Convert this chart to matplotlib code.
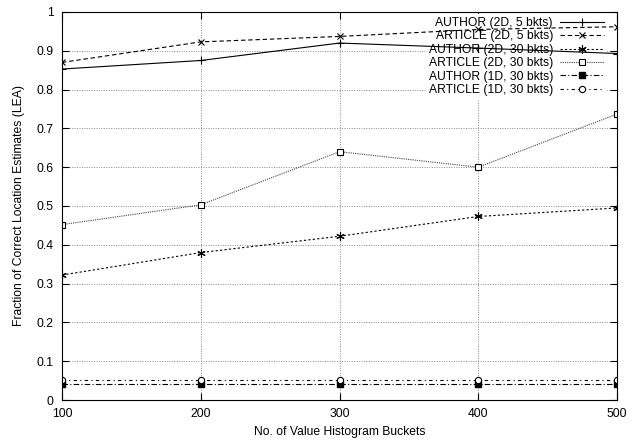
import numpy as np
import matplotlib
matplotlib.use("Agg")
import matplotlib.pyplot as plt

plt.rcParams['font.family'] = ['Liberation Sans', 'DejaVu Sans']
plt.rcParams['font.size'] = 8.7

buckets = [100, 200, 300, 400, 500]

author_2d_5 = [0.853, 0.875, 0.920, 0.907, 0.893]
article_2d_5 = [0.870, 0.923, 0.937, 0.955, 0.962]
author_2d_30 = [0.322, 0.380, 0.422, 0.473, 0.495]
article_2d_30 = [0.452, 0.503, 0.640, 0.600, 0.737]
author_1d_30 = [0.042, 0.042, 0.042, 0.042, 0.042]
article_1d_30 = [0.051, 0.051, 0.051, 0.051, 0.051]

labels = ['AUTHOR (2D, 5 bkts)', 'ARTICLE (2D, 5 bkts)', 'AUTHOR (2D, 30 bkts)',
          'ARTICLE (2D, 30 bkts)', 'AUTHOR (1D, 30 bkts)', 'ARTICLE (1D, 30 bkts)']

fig = plt.figure(figsize=(6.34, 4.4), dpi=100)
ax = fig.add_axes([62/634, 1 - 400/440, (617 - 62)/634, (400 - 12)/440])

lw = 0.8
ax.plot(buckets, author_2d_5, color='black', lw=lw, ls='-', marker='+', ms=6, mew=0.8, label=labels[0])
ax.plot(buckets, article_2d_5, color='black', lw=lw, ls=(0, (4, 2.5)), marker='x', ms=5, mew=0.8, label=labels[1])
ax.plot(buckets, author_2d_30, color='black', lw=lw, ls=(0, (2, 2)), marker=(6, 2, 0), ms=6, mew=0.8, label=labels[2])
ax.plot(buckets, article_2d_30, color='#444444', lw=lw, ls=(0, (1, 1)), marker='s', ms=5, mfc='white',
        mec='black', mew=0.8, label=labels[3])
ax.plot(buckets, author_1d_30, color='black', lw=lw, ls=(0, (5, 2, 1, 2)), marker='s', ms=5, mfc='black',
        mec='black', label=labels[4])
ax.plot(buckets, article_1d_30, color='black', lw=lw, ls=(0, (3, 3, 1, 3)), marker='o', ms=4.5, mfc='white',
        mec='black', mew=0.8, label=labels[5])

ax.set_xlim(100, 500)
ax.set_ylim(0, 1)
ax.set_xticks(buckets)
ax.set_yticks(np.arange(0, 1.01, 0.1))
ax.set_yticklabels(['0', '0.1', '0.2', '0.3', '0.4', '0.5', '0.6', '0.7', '0.8', '0.9', '1'])
ax.tick_params(direction='in', top=True, right=True, length=5, width=0.8, labelsize=8.7)
ax.tick_params(axis='x', pad=6)
ax.tick_params(axis='y', pad=6)
for s in ax.spines.values():
    s.set_linewidth(0.8)

ax.set_axisbelow(True)
ax.grid(True, color='#888888', ls=(0, (1, 1.5)), lw=0.7)

ax.set_xlabel('No. of Value Histogram Buckets', fontsize=8.7, labelpad=4)
ax.set_ylabel('Fraction of Correct Location Estimates (LEA)', fontsize=8.7, labelpad=8)

# key sits a bit in from the right edge, close to the top
leg = ax.legend(loc='upper right', bbox_to_anchor=(1 - 8.5/555, 1), markerfirst=False, frameon=True,
                fancybox=False, edgecolor='white', framealpha=1, fontsize=8.7, handlelength=3.6,
                handletextpad=0.6, labelspacing=0.12, borderpad=0.2, borderaxespad=0.2)
leg.set_zorder(1.5)

fig.savefig('out.png', dpi=100)
